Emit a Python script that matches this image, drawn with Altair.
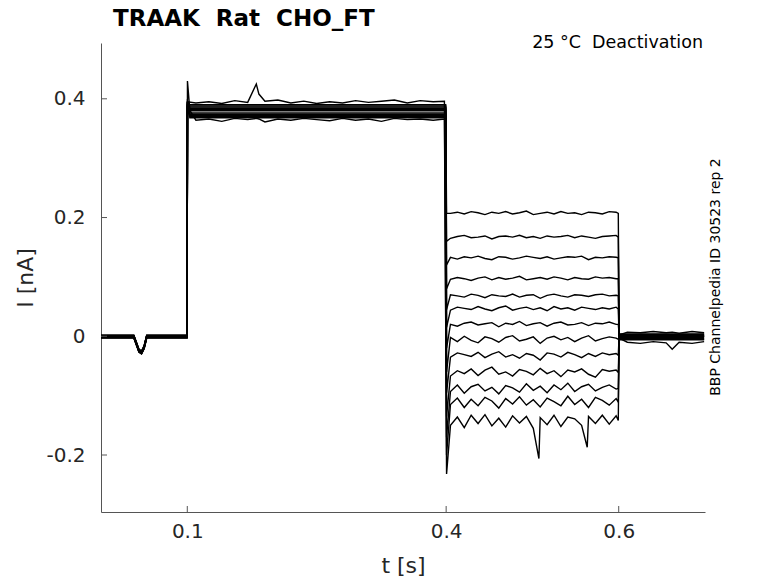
import altair as alt
import pandas as pd

NB = "\u00a0"
# ---------------- text ----------------
title_text = "TRAAK" + NB + " Rat" + NB + " CHO_FT"
condition_text = "25 °C" + NB + " Deactivation"
id_text = "BBP Channelpedia ID 30523 rep 2"
x_title = "t [s]"
y_title = "I [nA]"

x_ticks = [0.1, 0.4, 0.6]
y_ticks = [-0.2, 0, 0.2, 0.4]
x_domain = [0.0, 0.7]
y_domain = [-0.296, 0.494]

# ---------------- per-sweep values (nA) ----------------
baseline_levels = [0.000, -0.002, 0.002, -0.001, 0.001, -0.003, 0.002, -0.002, 0.000, -0.002, 0.001, -0.001, 0.001]
onset_peaks = [0.430, 0.395, 0.392, 0.390, 0.394, 0.388, 0.396, 0.391, 0.393, 0.389, 0.392, 0.387, 0.395]
plateau_levels = [0.380, 0.370, 0.388, 0.374, 0.384, 0.368, 0.390, 0.376, 0.382, 0.372, 0.386, 0.366, 0.392]
transient_mins = [0.207, 0.160, 0.120, 0.080, 0.045, 0.015, -0.020, -0.060, -0.095, -0.135, -0.170, -0.200, -0.232]
tail_levels = [0.207, 0.167, 0.132, 0.097, 0.068, 0.046, 0.020, -0.005, -0.032, -0.061, -0.088, -0.111, -0.142]
post_levels = [0.000, -0.004, 0.003, -0.002, 0.001, -0.006, 0.004, -0.001, 0.002, -0.005, 0.000, -0.003, 0.002]

# shared baseline dip near t = 0.045 s
dip_t = [0.038, 0.041, 0.044, 0.047, 0.050, 0.053]
dip_shape = [0.000, -0.012, -0.024, -0.027, -0.018, 0.000]

# tail sample times and noise (pA)
tail_t = [0.405, 0.413, 0.421, 0.429, 0.437, 0.445, 0.453, 0.461, 0.469, 0.477, 0.485, 0.493,
          0.501, 0.509, 0.517, 0.525, 0.533, 0.541, 0.549, 0.557, 0.565, 0.573, 0.581, 0.589, 0.597]
tail_noise_pA = [
    [0, 2, -1, 3, 1, -2, 2, 0, 3, -1, 1, 4, -2, 0, 2, -1, 3, 0, 1, -2, 2, 1, -1, 3, 2],
    [-2, 1, 3, -1, 0, 2, -3, 1, 2, 0, 3, -1, 1, -2, 2, 0, 1, 3, -1, 2, 0, -2, 1, 2, 3],
    [1, -2, 2, 0, 3, -1, -3, 2, 1, -2, 0, 3, 1, -1, 2, -2, 0, 2, 1, 3, -3, 1, 0, 2, 1],
    [-1, 2, 0, -3, 1, 3, -2, 2, -1, 1, 4, -2, 0, 2, -1, 3, 1, -2, 2, 0, -1, 3, 1, 2, 0],
    [2, 0, -2, 3, 1, -3, 2, 0, -1, 3, -2, 1, 2, -4, 1, 3, 0, -2, 2, 1, -1, 2, 3, 0, 1],
    [-2, 3, 1, -1, 4, 0, -3, 2, 5, -2, 1, 3, -1, 2, -3, 4, 0, 2, -2, 3, 1, -1, 2, 0, 3],
    [0, -3, 2, 4, -1, 1, 3, -4, 2, 0, 5, -2, 1, 3, -3, 2, 4, -1, 0, 3, -2, 2, 1, 4, 0],
    [3, -4, 5, -2, -6, 4, 1, -5, 3, 6, -3, 0, 4, -7, 2, 5, -1, 3, -4, 2, 6, -3, 1, 4, 2],
    [-3, 4, 1, -2, 5, -4, 2, 6, -3, 1, -5, 3, 0, -8, 4, 2, -3, 5, 1, -4, 3, -2, 4, 1, 3],
    [-6, 3, -2, 6, -5, 4, 9, -3, 1, -6, 5, 2, -4, 7, -2, 3, -7, 4, 1, 6, -3, -8, 5, 2, 4],
    [-5, 6, -8, 3, 7, -4, 2, -9, 5, 1, -6, 8, -3, 4, -7, 6, -2, 9, -5, 3, 7, -4, 2, 6, -1],
    [-4, 7, -9, 5, -6, 8, 2, -10, 6, -3, 9, -5, 4, -8, 7, 1, -6, 10, -4, 5, -9, 8, 3, -5, 6],
    [-8, 6, -12, 9, -5, 10, -9, 4, -11, 8, -4, 7, -13, 5, -7, 9, -10, 6, 3, -8, 7, -5, 9, -6, 8],
]
# sharp downward spikes on the last sweep
spike_t = [0.5075, 0.5635]
spike_I = [-0.206, -0.187]

# jagged edges of the activation band
plateau_t = [0.110, 0.125, 0.140, 0.155, 0.170, 0.180, 0.183, 0.190, 0.205, 0.220, 0.235, 0.250,
             0.265, 0.280, 0.295, 0.310, 0.325, 0.340, 0.355, 0.370, 0.385, 0.398]
plateau_top = [0.393, 0.395, 0.392, 0.397, 0.394, 0.425, 0.408, 0.396, 0.398, 0.393, 0.396, 0.392,
               0.395, 0.393, 0.397, 0.394, 0.396, 0.398, 0.393, 0.397, 0.395, 0.396]
plateau_bottom = [0.364, 0.366, 0.362, 0.367, 0.365, 0.367, 0.366, 0.361, 0.366, 0.364, 0.367, 0.365,
                  0.363, 0.367, 0.364, 0.366, 0.362, 0.367, 0.365, 0.366, 0.364, 0.366]
top_sweep = 12
bottom_sweep = 11

# jagged post-step baseline
post_t = [0.610, 0.625, 0.640, 0.655, 0.662, 0.670, 0.685, 0.699]
post_low = [-0.010, -0.012, -0.009, -0.011, -0.022, -0.010, -0.012, -0.009]
post_high = [0.007, 0.006, 0.008, 0.006, 0.007, 0.005, 0.008, 0.006]

# ---------------- build long table ----------------
rows = []
for s in range(len(tail_levels)):
    pts = []
    b = baseline_levels[s]
    pts.append((0.0, b))
    for t, d in zip(dip_t, dip_shape):
        pts.append((t, b + d))
    pts.append((0.0998, b))
    pts.append((0.1002, onset_peaks[s]))
    if s == top_sweep:
        pts += list(zip(plateau_t, plateau_top))
    elif s == bottom_sweep:
        pts += list(zip(plateau_t, plateau_bottom))
    else:
        pts.append((0.103, plateau_levels[s]))
        pts.append((0.3995, plateau_levels[s]))
    pts.append((0.4005, transient_mins[s]))
    tail = [(t, tail_levels[s] + n / 1000.0) for t, n in zip(tail_t, tail_noise_pA[s])]
    if s == len(tail_levels) - 1:
        tail += list(zip(spike_t, spike_I))
        tail.sort()
    pts += tail
    pts.append((0.5995, tail_levels[s]))
    pts.append((0.6005, post_levels[s]))
    if s == top_sweep:
        pts += list(zip(post_t, post_high))
    elif s == bottom_sweep:
        pts += list(zip(post_t, post_low))
    else:
        pts.append((0.699, post_levels[s]))
    for k, (t, v) in enumerate(pts):
        rows.append({"t": t, "I": v, "sweep": s, "k": k})
df = pd.DataFrame(rows)

W, H = 604, 469
FONT = "DejaVu Sans"
AX = "#555555"
TXT = "#262626"

xscale = alt.Scale(domain=x_domain, nice=False, zero=False)
yscale = alt.Scale(domain=y_domain, nice=False, zero=False)

traces = alt.Chart(df).mark_line(color="black", strokeWidth=1.4, clip=True).encode(
    x=alt.X("t:Q", scale=xscale,
            axis=alt.Axis(values=x_ticks, format=".1f", title=x_title, labelPadding=9,
                          titlePadding=14)),
    y=alt.Y("I:Q", scale=yscale,
            axis=alt.Axis(values=y_ticks, title=y_title, labelPadding=16, titlePadding=8,
                          labelExpr="datum.value == 0 ? '0' : (datum.value < 0 ? '-' + format(-datum.value, '.1f') : format(datum.value, '.1f'))")),
    detail="sweep:N",
    order="k:Q",
)

xt = alt.Chart(pd.DataFrame({"v": x_ticks})).mark_rule(color=AX, strokeWidth=1).encode(
    x=alt.X("v:Q", scale=xscale), y=alt.value(H), y2=alt.value(H - 6))
yt = alt.Chart(pd.DataFrame({"v": y_ticks})).mark_rule(color=AX, strokeWidth=1).encode(
    y=alt.Y("v:Q", scale=yscale), x=alt.value(0), x2=alt.value(6))

one = pd.DataFrame({"a": [0]})
title = alt.Chart(one).mark_text(text=title_text, font=FONT, fontSize=23, fontWeight="bold",
                                 align="left", baseline="alphabetic", color="black").encode(
    x=alt.value(12), y=alt.value(-17))
cond = alt.Chart(one).mark_text(text=condition_text, font=FONT, fontSize=17.5,
                                align="right", baseline="alphabetic", color="black").encode(
    x=alt.value(602), y=alt.value(5))
ident = alt.Chart(one).mark_text(text=id_text, font=FONT, fontSize=14, angle=270,
                                 align="center", baseline="middle", color="black").encode(
    x=alt.value(615), y=alt.value(234))

chart = alt.layer(traces, xt, yt, title, cond, ident).properties(
    width=W, height=H,
    autosize=alt.AutoSizeParams(type="none"),
    padding={"left": 93, "top": 35, "right": 65, "bottom": 71},
).configure_view(stroke=None).configure_axis(
    grid=False, ticks=False, tickSize=0, domainColor=AX, domainWidth=1,
    labelFont=FONT, labelFontSize=20, labelColor=TXT,
    titleFont=FONT, titleFontSize=22, titleFontWeight="normal", titleColor=TXT,
)

chart.save("out.html", embed_options={"renderer": "svg", "actions": False})
